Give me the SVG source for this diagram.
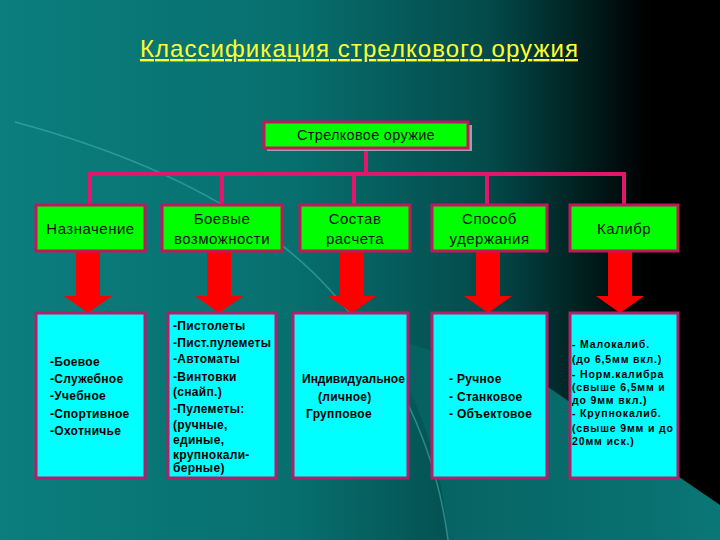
<svg xmlns="http://www.w3.org/2000/svg" width="720" height="540" viewBox="0 0 720 540">
<defs>
  <linearGradient id="bg" x1="0" y1="0" x2="1" y2="0">
    <stop offset="0" stop-color="#0b7e7d"/>
    <stop offset="0.4" stop-color="#07706f"/>
    <stop offset="0.68" stop-color="#044a4a"/>
    <stop offset="0.9" stop-color="#000000"/>
    <stop offset="1" stop-color="#000000"/>
  </linearGradient>
  <linearGradient id="low" x1="0" y1="0" x2="1" y2="0">
    <stop offset="0" stop-color="#065e5e"/>
    <stop offset="1" stop-color="#0b8584"/>
  </linearGradient>
  <path id="arrow" d="M-12,0 L12,0 L12,44 L24,44 L0,61 L-24,44 L-12,44 Z"/>
  <style>
    .title{font-family:"Liberation Sans",Arial,sans-serif;font-size:24px;fill:#ffff33;text-decoration:underline}
    .top{fill:#00ff00;stroke:#c2185b;stroke-width:3}
    .cat{fill:#00ff00;stroke:#c2185b;stroke-width:3}
    .list{fill:#00ffff;stroke:#b0206a;stroke-width:3}
    .lbl{font-family:"Liberation Sans",Arial,sans-serif;font-size:15px;fill:#111;text-anchor:middle;letter-spacing:0.5px}
    .item{font-family:"Liberation Sans",Arial,sans-serif;font-size:12px;font-weight:bold;fill:#000;letter-spacing:0.3px}
    .small{font-size:10.5px;letter-spacing:0.85px}
    .conn{fill:none;stroke:#e0176a;stroke-width:4}
    .arr{fill:#ff0000}
  </style>
</defs>
<rect width="720" height="540" fill="url(#bg)"/>
<path d="M448,540 Q 440,430 380,335 L 545,385 L 720,505 L 720,540 Z" fill="url(#low)" opacity="0.9"/>
<path d="M15,122 Q 230,180 330,290 Q 430,400 448,540" fill="none" stroke="#3fb3b0" stroke-width="1.5" opacity="0.6"/>

<text class="title" x="359" y="57" text-anchor="middle" textLength="438" lengthAdjust="spacing">Классификация стрелкового оружия</text>

<g id="connectors">
  <path class="conn" d="M366,148 V174 M88,174 H626 M90,174 V205 M222,174 V205 M354,174 V205 M487,174 V205 M624,174 V205"/>
  <use href="#arrow" class="arr" x="88" y="252"/>
  <use href="#arrow" class="arr" x="219" y="252"/>
  <use href="#arrow" class="arr" x="352" y="252"/>
  <use href="#arrow" class="arr" x="488" y="252"/>
  <use href="#arrow" class="arr" x="620" y="252"/>
</g>

<g id="root">
  <rect x="267" y="125" width="205" height="26" fill="#a0a0a0"/>
  <rect class="top" x="264" y="122" width="204" height="26"/>
  <text class="lbl" x="366" y="140" style="font-size:14.5px;letter-spacing:0.3px">Стрелковое оружие</text>
</g>

<g id="cat1">
  <rect class="cat" x="36" y="205" width="109" height="46"/>
  <text class="lbl" x="90.5" y="234">Назначение</text>
</g>
<g id="cat2">
  <rect class="cat" x="162" y="205" width="120" height="46"/>
  <text class="lbl" x="222" y="224">Боевые</text>
  <text class="lbl" x="222" y="244">возможности</text>
</g>
<g id="cat3">
  <rect class="cat" x="300" y="205" width="110" height="46"/>
  <text class="lbl" x="355" y="224">Состав</text>
  <text class="lbl" x="355" y="244">расчета</text>
</g>
<g id="cat4">
  <rect class="cat" x="432" y="205" width="115" height="46"/>
  <text class="lbl" x="489.5" y="224">Способ</text>
  <text class="lbl" x="489.5" y="244">удержания</text>
</g>
<g id="cat5">
  <rect class="cat" x="570" y="205" width="108" height="46"/>
  <text class="lbl" x="624" y="234">Калибр</text>
</g>

<g id="list1">
  <rect class="list" x="36" y="313" width="109" height="165"/>
  <text class="item" x="50" y="366">-Боевое</text>
  <text class="item" x="50" y="383">-Служебное</text>
  <text class="item" x="50" y="400">-Учебное</text>
  <text class="item" x="50" y="418">-Спортивное</text>
  <text class="item" x="50" y="435">-Охотничье</text>
</g>
<g id="list2">
  <rect class="list" x="168" y="313" width="108" height="165"/>
  <text class="item" x="173" y="330">-Пистолеты</text>
  <text class="item" x="173" y="347">-Пист.пулеметы</text>
  <text class="item" x="173" y="363">-Автоматы</text>
  <text class="item" x="173" y="381">-Винтовки</text>
  <text class="item" x="173" y="396">(снайп.)</text>
  <text class="item" x="173" y="413">-Пулеметы:</text>
  <text class="item" x="173" y="429">(ручные,</text>
  <text class="item" x="173" y="444">единые,</text>
  <text class="item" x="173" y="459">крупнокали-</text>
  <text class="item" x="173" y="472">берные)</text>
</g>
<g id="list3">
  <rect class="list" x="293" y="313" width="115" height="165"/>
  <text class="item" x="302" y="383" style="letter-spacing:0">Индивидуальное</text>
  <text class="item" x="318" y="401">(личное)</text>
  <text class="item" x="306" y="418">Групповое</text>
</g>
<g id="list4">
  <rect class="list" x="432" y="313" width="115" height="165"/>
  <text class="item" x="449" y="383">- Ручное</text>
  <text class="item" x="449" y="401">- Станковое</text>
  <text class="item" x="449" y="418">- Объектовое</text>
</g>
<g id="list5">
  <rect class="list" x="570" y="313" width="108" height="165"/>
  <text class="item small" x="572" y="348">- Малокалиб.</text>
  <text class="item small" x="572" y="363">(до 6,5мм вкл.)</text>
  <text class="item small" x="572" y="378">- Норм.калибра</text>
  <text class="item small" x="572" y="391">(свыше 6,5мм и</text>
  <text class="item small" x="572" y="404">до 9мм вкл.)</text>
  <text class="item small" x="572" y="417">- Крупнокалиб.</text>
  <text class="item small" x="572" y="432">(свыше 9мм и до</text>
  <text class="item small" x="572" y="445">20мм иск.)</text>
</g>
</svg>
